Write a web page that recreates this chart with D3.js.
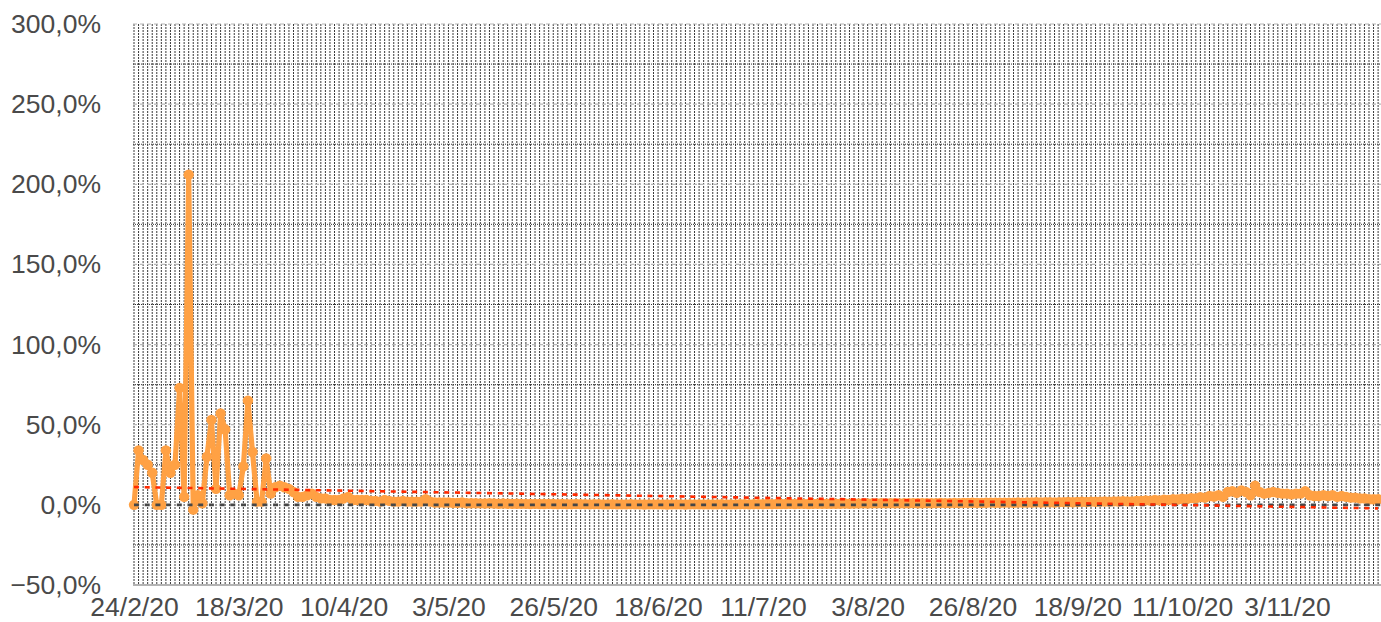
<!DOCTYPE html>
<html>
<head>
<meta charset="utf-8">
<script src="https://cdn.jsdelivr.net/npm/d3@7"></script>
<style>
  html, body { margin: 0; padding: 0; background: #fff; }
  svg { display: block; }
  text { font-family: "Liberation Sans", Arial, Helvetica, sans-serif; }
</style>
</head>
<body>
<svg id="chart" width="1381" height="622"></svg>
<script>
// ---- data ----
const startDate = "2020-02-24";
const dailyGrowth = [
  0,34,28,25,20,0,0,34,20,25,73,5,206,-3,6,1,30,53,10,57,47,6,7,6,24,65,33,2,2,29,7,11,12,11,10,8,
  5,5,6,7,5,4,4,3,3,3,4,5,3,3,3,3,2.5,2.5,2,3,2.5,2,2,2.5,2,2,2,2,3.5,2,1.5,1.5,1.5,1.5,1.2,1.2,1.5,1,1,1,
  0.9,0.8,1,0.8,0.7,0.8,0.7,0.6,0.7,0.6,
  0.6,0.5,0.6,0.5,0.5,0.6,0.5,0.4,0.5,0.4,
  0.4,0.5,0.4,0.4,0.3,0.4,0.4,0.3,0.3,0.4,
  0.3,0.3,0.3,0.4,0.3,0.3,0.2,0.3,0.3,0.3,
  0.3,0.2,0.3,0.3,0.3,0.2,0.3,0.3,0.3,0.3,
  0.3,0.3,0.3,0.4,0.3,0.3,0.3,0.4,0.4,0.3,
  0.4,0.4,0.4,0.5,0.4,0.5,0.5,0.5,0.6,0.5,
  0.6,0.6,0.5,0.6,0.7,
  0.7,0.7,0.6,0.7,0.7,0.8,0.7,0.8,0.8,0.9,
  0.8,0.9,0.9,1,0.9,1,1,0.9,1,1,
  1.1,1,1,1.1,1,1.1,1.2,1.1,1.1,1.2,
  1.1,1.2,1.2,1.3,1.2,1.2,1.3,1.4,1.3,1.3,
  1.4,1.4,1.3,1.5,1.4,1.5,1.5,1.6,1.5,1.6,
  1.6,1.5,1.7,1.7,1.8,1.6,1.8,1.9,1.8,2,
  1.9,2,2.1,2,2.2,2.1,2.3,2.2,
  2.2,2.5,2.4,2.8,2.6,3,2.8,3.2,3,3.5,3.3,3.8,3.6,4.2,4,4.8,4.5,5.5,5.2,6,
  5,8,8.5,7.5,9,8,6,12,8,7,7.5,8,7.5,7,7,6.5,7,7,8.5,6,
  5.5,5.5,6,5.5,6,5,5.5,5,4.5,4.5,4,4,3.5,3.5,3.5
];
const trendStart = 11.1;   // linear trend value at first day (%)
const trendEnd = -2.2;     // linear trend value at last day (%)
const yTicks = [-50, 0, 50, 100, 150, 200, 250, 300];
const yGrid = [-25, 25, 75, 125, 175, 225, 275];
const xTickEvery = 23;     // days between x labels

// ---- setup ----
const parse = d3.timeParse("%Y-%m-%d");
const d0 = parse(startDate);
const data = dailyGrowth.map((v, i) => ({ date: d3.timeDay.offset(d0, i), v }));
const lastDate = data[data.length - 1].date;

const svg = d3.select("#chart");
const pLeft = 134, pRight = 1378.1, pTop = 24, pBottom = 585;

const x = d3.scaleTime().domain([d0, lastDate]).range([pLeft, pRight]);
const y = d3.scaleLinear().domain([-50, 300]).range([pBottom, pTop]);

// vertical daily gridlines
const days = d3.timeDay.range(d0, d3.timeDay.offset(lastDate, 2));
svg.append("g").selectAll("line").data(days).join("line")
  .attr("x1", d => x(d)).attr("x2", d => x(d))
  .attr("y1", pTop).attr("y2", pBottom)
  .attr("stroke", "#3a3a3a").attr("stroke-width", 1)
  .attr("stroke-dasharray", "2,1");

// horizontal minor gridlines (dark dotted)
svg.append("g").selectAll("line").data(yGrid).join("line")
  .attr("x1", pLeft - 1).attr("x2", 1381)
  .attr("y1", d => y(d)).attr("y2", d => y(d))
  .attr("stroke", "#333").attr("stroke-width", 1)
  .attr("stroke-dasharray", "1,1");

// horizontal major gridlines (light dashed)
svg.append("g").selectAll("line").data(yTicks.filter(t => t !== -50 && t !== 0)).join("line")
  .attr("x1", pLeft - 1).attr("x2", 1381)
  .attr("y1", d => y(d)).attr("y2", d => y(d))
  .attr("stroke", "#b8b8b8").attr("stroke-width", 1.2)
  .attr("stroke-dasharray", "4,3");

// bottom axis line
svg.append("line")
  .attr("x1", pLeft - 1).attr("x2", 1381)
  .attr("y1", pBottom).attr("y2", pBottom)
  .attr("stroke", "#9a9a9a").attr("stroke-width", 1.5);

// y axis labels
const fmtPct = v => d3.format(".1f")(v).replace(".", ",") + "%";
const yAxis = d3.axisLeft(y).tickValues(yTicks).tickFormat(fmtPct).tickSize(0).tickPadding(0);
const gy = svg.append("g").attr("transform", "translate(101,0)").call(yAxis);
gy.select(".domain").remove();
gy.selectAll("text").attr("font-size", 26.5).attr("fill", "#4a4a4a")
  .attr("font-family", "'Liberation Sans', Arial, sans-serif");

// x axis labels
const xTickVals = data.filter((d, i) => i % xTickEvery === 0).map(d => d.date);
const fmtDate = d3.timeFormat("%-d/%-m/%y");
const xAxis = d3.axisBottom(x).tickValues(xTickVals).tickFormat(fmtDate).tickSize(0).tickPadding(0);
const gx = svg.append("g").attr("transform", "translate(0,0)").call(xAxis);
gx.select(".domain").remove();
gx.selectAll("text").attr("font-size", 26.5).attr("fill", "#4a4a4a")
  .attr("y", 616).attr("dy", 0)
  .attr("font-family", "'Liberation Sans', Arial, sans-serif");

// series line
const orange = "#ffa144";
const line = d3.line().x(d => x(d.date)).y(d => y(d.v));
svg.append("path").datum(data)
  .attr("d", line)
  .attr("fill", "none").attr("stroke", orange)
  .attr("stroke-width", 5.2).attr("stroke-linejoin", "round").attr("stroke-linecap", "round");
svg.append("g").selectAll("circle").data(data).join("circle")
  .attr("cx", d => x(d.date)).attr("cy", d => y(d.v)).attr("r", 5.2)
  .attr("fill", orange);

// zero reference line
svg.append("line")
  .attr("x1", pLeft).attr("x2", 1381)
  .attr("y1", y(0)).attr("y2", y(0))
  .attr("stroke", "#474747").attr("stroke-width", 2.6)
  .attr("stroke-dasharray", "5,5.7");

// linear trend line
svg.append("line")
  .attr("x1", x(d0)).attr("x2", x(lastDate))
  .attr("y1", y(trendStart)).attr("y2", y(trendEnd))
  .attr("stroke", "#ff2a00").attr("stroke-width", 2.6)
  .attr("stroke-dasharray", "5,5.7");
</script>
</body>
</html>
